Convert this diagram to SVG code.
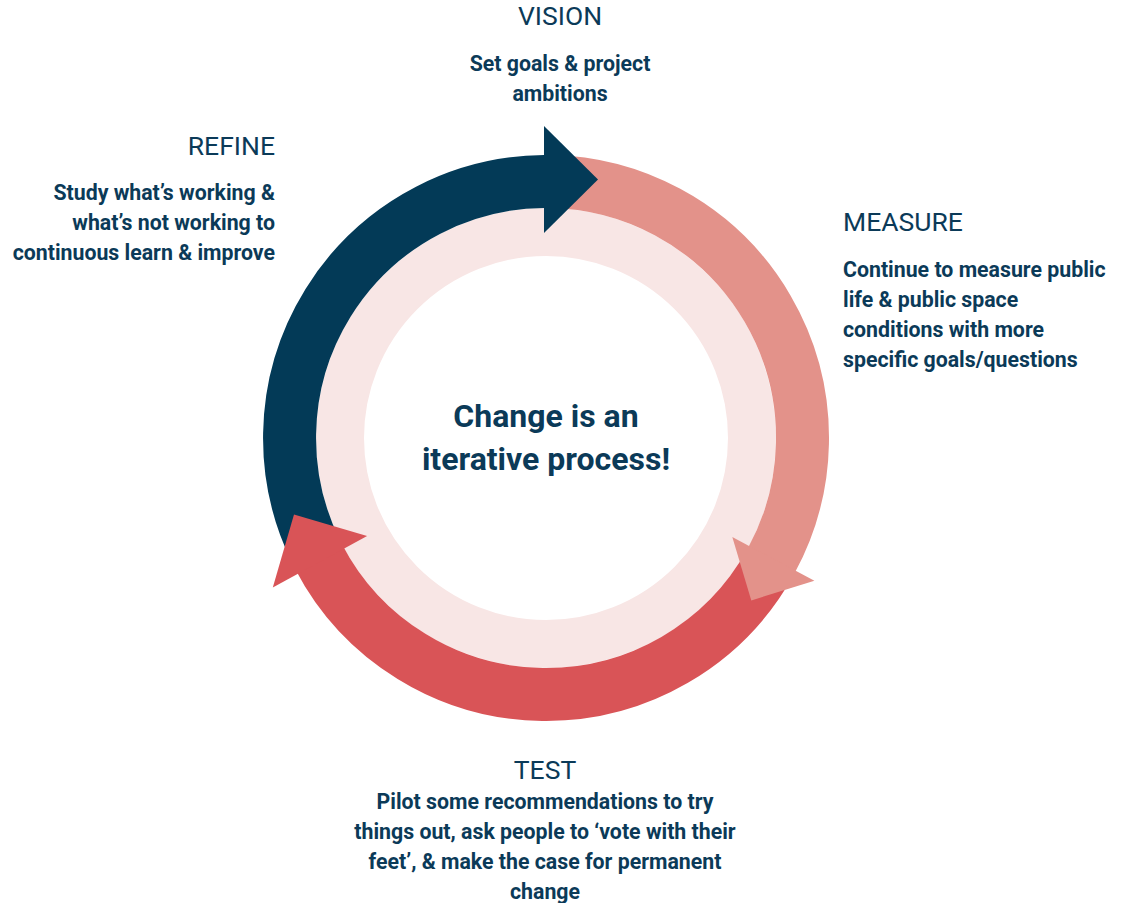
<svg xmlns="http://www.w3.org/2000/svg" width="1123" height="903" viewBox="0 0 1123 903">
<style>
.h{font-family:Roboto,"Liberation Sans",sans-serif;font-size:26.5px;fill:#0B3A58;}
.b{font-family:Roboto,"Liberation Sans",sans-serif;font-size:21.3px;font-weight:bold;fill:#0B3A58;}
.c{font-family:Roboto,"Liberation Sans",sans-serif;font-size:32px;font-weight:bold;fill:#0B3A58;}
.shaft{fill:none;stroke-width:53;stroke-linecap:butt;}
</style>
<rect width="1123" height="903" fill="#ffffff"/>
<g id="center">
<circle cx="546" cy="438" r="206" fill="#ffffff" stroke="#F8E6E5" stroke-width="48"/>
<text class="c" x="546" y="427" text-anchor="middle">Change is an</text>
<text class="c" x="546" y="470" text-anchor="middle">iterative process!</text>
</g>
<g id="connectors">
<path class="shaft" stroke="#033A57" d="M315.5,550.4 A256.5,256.5 0 0 1 544.2,181.5"/>
<path class="shaft" stroke="#E3928A" d="M550.5,181.5 A256.5,256.5 0 0 1 771.4,560.4"/>
<path class="shaft" stroke="#D95457" d="M770.3,562.4 A256.5,256.5 0 0 1 318.5,556.4"/>
<polygon fill="#033A57" points="544,126 598,179.5 544,233"/>
<polygon fill="#E3928A" points="732.3,537.1 751.3,600.4 814.4,580.7"/>
<polygon fill="#D95457" points="367.1,536 294,514.4 272.8,587.6"/>
</g>
<g id="vision">
<text class="h" x="560" y="25" text-anchor="middle">VISION</text>
<text class="b" x="560" y="71" text-anchor="middle">Set goals &amp; project</text>
<text class="b" x="560" y="101" text-anchor="middle">ambitions</text>
</g>
<g id="refine">
<text class="h" x="275" y="155" text-anchor="end">REFINE</text>
<text class="b" x="275" y="200" text-anchor="end">Study what’s working &amp;</text>
<text class="b" x="275" y="230" text-anchor="end">what’s not working to</text>
<text class="b" x="275" y="260" text-anchor="end">continuous learn &amp; improve</text>
</g>
<g id="measure">
<text class="h" x="843" y="231">MEASURE</text>
<text class="b" x="843" y="277">Continue to measure public</text>
<text class="b" x="843" y="307">life &amp; public space</text>
<text class="b" x="843" y="337">conditions with more</text>
<text class="b" x="843" y="367">specific goals/questions</text>
</g>
<g id="test">
<text class="h" x="545" y="779" text-anchor="middle">TEST</text>
<text class="b" x="545" y="809" text-anchor="middle">Pilot some recommendations to try</text>
<text class="b" x="545" y="839" text-anchor="middle">things out, ask people to ‘vote with their</text>
<text class="b" x="545" y="869" text-anchor="middle">feet’, &amp; make the case for permanent</text>
<text class="b" x="545" y="899" text-anchor="middle">change</text>
</g>
</svg>
